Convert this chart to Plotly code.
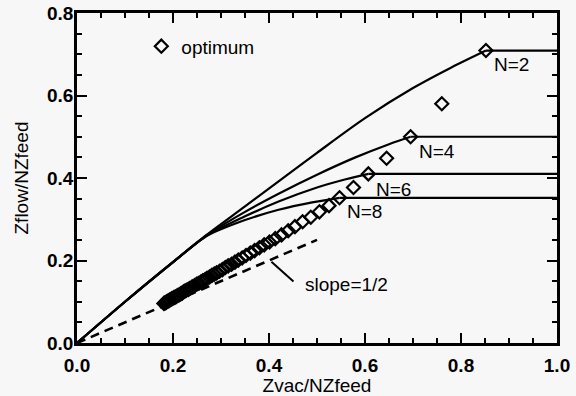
import plotly.graph_objects as go

# ---- data ----
n2_x = [0.0, 0.1, 0.2, 0.27, 0.35, 0.42, 0.5, 0.6, 0.7, 0.78, 0.852]
n2_y = [0.0, 0.1, 0.196, 0.262, 0.331, 0.392, 0.461, 0.545, 0.618, 0.668, 0.709]

n4_x = [0.0, 0.1, 0.2, 0.27, 0.35, 0.42, 0.5, 0.58, 0.65, 0.695]
n4_y = [0.0, 0.1, 0.196, 0.261, 0.318, 0.362, 0.408, 0.45, 0.482, 0.50]

n6_x = [0.0, 0.1, 0.2, 0.27, 0.35, 0.42, 0.5, 0.56, 0.607]
n6_y = [0.0, 0.1, 0.196, 0.260, 0.307, 0.343, 0.377, 0.397, 0.41]

n8_x = [0.0, 0.1, 0.2, 0.27, 0.35, 0.42, 0.49, 0.547]
n8_y = [0.0, 0.1, 0.196, 0.259, 0.298, 0.323, 0.341, 0.352]

curve_labels = ["N=2", "N=4", "N=6", "N=8"]
label_x = [0.864, 0.708, 0.619, 0.558]
label_y = [0.674, 0.464, 0.371, 0.318]

opt_x = [0.852, 0.76, 0.695, 0.645, 0.607, 0.576, 0.547, 0.525, 0.505, 0.487,
         0.470, 0.454, 0.440, 0.426, 0.413, 0.401, 0.390, 0.380, 0.370, 0.361,
         0.352, 0.344, 0.336, 0.329, 0.322, 0.315, 0.309, 0.303, 0.297, 0.291,
         0.286, 0.281, 0.276, 0.271, 0.267, 0.262, 0.258, 0.254, 0.250, 0.246,
         0.242, 0.239, 0.235, 0.232, 0.228, 0.225, 0.222, 0.219, 0.216, 0.213,
         0.210, 0.207, 0.204, 0.202, 0.199, 0.197, 0.194, 0.192, 0.190, 0.187,
         0.185, 0.183, 0.181]
opt_y = [0.709, 0.58, 0.50, 0.448, 0.41, 0.377, 0.352, 0.333, 0.318, 0.305,
         0.294, 0.282, 0.272, 0.262, 0.253, 0.245, 0.238, 0.231, 0.224, 0.218,
         0.212, 0.206, 0.201, 0.196, 0.191, 0.187, 0.183, 0.178, 0.174, 0.170,
         0.167, 0.164, 0.160, 0.157, 0.154, 0.151, 0.148, 0.145, 0.143, 0.140,
         0.137, 0.135, 0.132, 0.130, 0.128, 0.126, 0.124, 0.121, 0.119, 0.117,
         0.115, 0.113, 0.111, 0.110, 0.108, 0.107, 0.105, 0.103, 0.102, 0.100,
         0.098, 0.097, 0.096]

slope_x = [0.0, 0.5]
slope_y = [0.0, 0.25]

x_ticks = [0.0, 0.2, 0.4, 0.6, 0.8, 1.0]
y_ticks = [0.0, 0.2, 0.4, 0.6, 0.8]

FONT = "Liberation Sans, Arial, Helvetica, sans-serif"
BG = "#f7f7f7"
FS = 19

fig = go.Figure()

for cx, cy in [(n2_x, n2_y), (n4_x, n4_y), (n6_x, n6_y), (n8_x, n8_y)]:
    fig.add_trace(go.Scatter(x=cx, y=cy, mode="lines",
                             line=dict(color="black", width=2.2, shape="spline", smoothing=0.8),
                             showlegend=False, hoverinfo="skip"))
    fig.add_trace(go.Scatter(x=[cx[-1], 1.0], y=[cy[-1], cy[-1]], mode="lines",
                             line=dict(color="black", width=2.2),
                             showlegend=False, hoverinfo="skip"))

fig.add_trace(go.Scatter(x=slope_x, y=slope_y, mode="lines",
                         line=dict(color="black", width=2.6, dash="9px,6px"),
                         showlegend=False, hoverinfo="skip"))

fig.add_trace(go.Scatter(x=opt_x, y=opt_y, mode="markers", name="optimum",
                         marker=dict(symbol="diamond-open", size=10, color="black",
                                     line=dict(color="black", width=2.2))))

for t, lx, ly in zip(curve_labels, label_x, label_y):
    fig.add_annotation(x=lx, y=ly, text=t, showarrow=False, xanchor="left",
                       yanchor="middle", font=dict(family=FONT, size=FS, color="black"))

fig.add_annotation(x=0.471, y=0.141, text="slope=1/2", showarrow=False, xanchor="left",
                   yanchor="middle", font=dict(family=FONT, size=FS, color="black"))
fig.add_shape(type="line", x0=0.451, y0=0.149, x1=0.405, y1=0.197,
              line=dict(color="black", width=2))

axis_common = dict(
    showline=True, linecolor="black", linewidth=2.5, mirror="ticks",
    ticks="inside", ticklen=10, tickwidth=2, tickcolor="black",
    showgrid=False, zeroline=False, automargin=False,
    tickfont=dict(family=FONT, size=FS, color="black", weight="bold"),
    minor=dict(dtick=0.05, ticks="inside", ticklen=5, tickwidth=2, tickcolor="black"),
)

fig.update_xaxes(range=[0, 1.0], tickvals=x_ticks, ticktext=[f"{v:.1f}" for v in x_ticks],
                 ticklabelstandoff=3,
                 title=dict(text="Zvac/NZfeed", font=dict(family=FONT, size=FS, color="black"),
                            standoff=8),
                 **axis_common)
fig.update_yaxes(range=[0, 0.8], tickvals=y_ticks, ticktext=[f"{v:.1f}" for v in y_ticks],
                 ticklabelstandoff=-3,
                 title=dict(text="Zflow/NZfeed", font=dict(family=FONT, size=FS, color="black"),
                            standoff=14),
                 **axis_common)

fig.update_layout(
    width=576, height=396,
    margin=dict(l=77, r=19, t=13, b=53),
    paper_bgcolor=BG, plot_bgcolor=BG,
    legend=dict(x=0.134, y=0.899, xanchor="left", yanchor="middle",
                bgcolor="rgba(0,0,0,0)", font=dict(family=FONT, size=FS, color="black")),
    showlegend=True,
)

fig.write_html(
    "out.html",
    config={"displayModeBar": False},
    post_script="document.body.style.margin='0';document.body.style.overflow='hidden';",
)
